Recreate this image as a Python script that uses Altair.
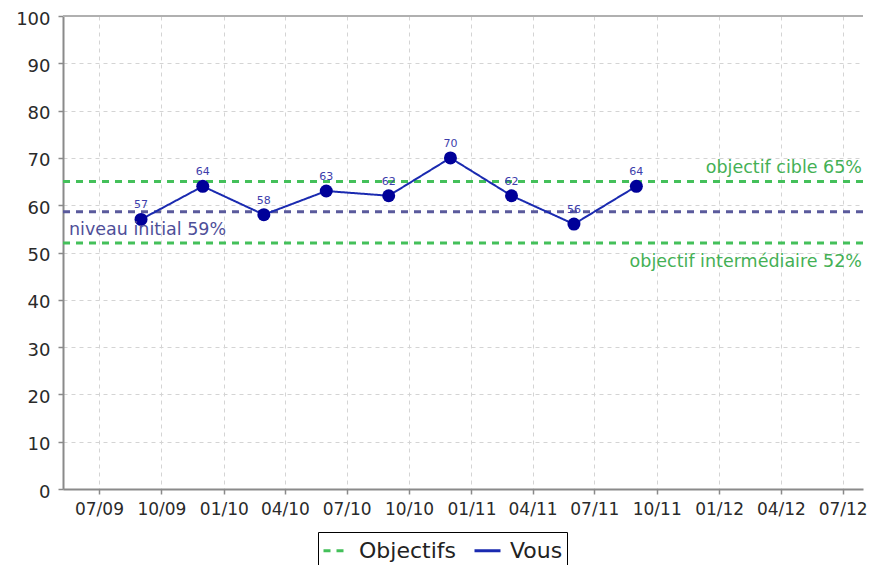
import altair as alt
import pandas as pd

# ---------------- data ----------------
dates = ["2009-09-01", "2009-12-01", "2010-03-01", "2010-06-01", "2010-09-01",
         "2010-12-01", "2011-03-01", "2011-06-01", "2011-09-01"]
scores = [57, 64, 58, 63, 62, 70, 62, 56, 64]
series_names = ["Objectifs", "Vous"]
goal_values = [65, 52]
goal_labels = ["objectif cible 65%", "objectif intermédiaire 52%"]
initial_values = [58.6]
initial_labels = ["niveau initial 59%"]
tick_years = [2009, 2009, 2010, 2010, 2010, 2010, 2011, 2011, 2011, 2011, 2012, 2012, 2012]
tick_months = [7, 10, 1, 4, 7, 10, 1, 4, 7, 10, 1, 4, 7]
y_ticks = [0, 10, 20, 30, 40, 50, 60, 70, 80, 90, 100]
x_start = (2009, 5, 9)
x_end = (2012, 7, 31)
y_range = [0, 100]

# ---------------- styles ----------------
GREEN = "#44c05a"
GREEN_TEXT = "#44b055"
NAVY = "#1a2ab0"
NAVY_PT = "#000099"
SLATE = "#5a5a9c"
SLATE_TEXT = "#4f4f99"
LABEL_BLUE = "#3d3dab"
FONT = "DejaVu Sans"
W, H = 800, 473

vous_df = pd.DataFrame({"date": dates, "score": scores, "series": "Vous"})
goals_df = pd.DataFrame({"value": goal_values, "label": goal_labels, "series": "Objectifs"})
init_df = pd.DataFrame({"value": initial_values, "label": initial_labels})
top_df = pd.DataFrame({"value": [y_range[1]]})


def dt(y, m, d):
    return alt.DateTime(year=y, month=m, date=d, utc=True)


x_scale = alt.Scale(type="utc", domain=[dt(*x_start), dt(*x_end)])
x_axis = alt.Axis(
    title=None,
    values=[dt(y, m, 1) for y, m in zip(tick_years, tick_months)],
    labelExpr="utcFormat(datum.value, '%m/%y')",
    labelOverlap=False, labelFlush=False, labelPadding=7, labelFontSize=17,
)
y_scale = alt.Scale(domain=y_range, nice=False, zero=True)
y_axis = alt.Axis(title=None, values=y_ticks, labelPadding=8, labelOffset=3)


def make_legend():
    return alt.Legend(
        title=None, orient="none", legendX=255, legendY=516, direction="horizontal",
        strokeColor="#000000", padding=4,
        labelFont=FONT, labelFontSize=22, labelColor="#222222",
        symbolType="stroke", symbolSize=676, symbolStrokeWidth=3,
        labelOffset=8, columnPadding=12,
    )


color_enc = alt.Color(
    "series:N", scale=alt.Scale(domain=series_names, range=[GREEN, NAVY]), legend=make_legend()
)
dash_enc = alt.StrokeDash(
    "series:N", scale=alt.Scale(domain=series_names, range=[[7, 6], [1, 0]]), legend=make_legend()
)

top_rule = alt.Chart(top_df).mark_rule(color="#b0b0b0", strokeWidth=2).encode(
    y=alt.Y("value:Q", scale=y_scale, axis=y_axis)
)
goal_rules = alt.Chart(goals_df).mark_rule(strokeWidth=3).encode(
    y=alt.Y("value:Q", scale=y_scale, axis=y_axis), color=color_enc, strokeDash=dash_enc
)
init_rule = alt.Chart(init_df).mark_rule(color=SLATE, strokeWidth=3, strokeDash=[7, 6]).encode(
    y=alt.Y("value:Q", scale=y_scale, axis=y_axis)
)
line = alt.Chart(vous_df).mark_line(strokeWidth=2).encode(
    x=alt.X("date:T", scale=x_scale, axis=x_axis),
    y=alt.Y("score:Q", scale=y_scale, axis=y_axis),
    color=color_enc,
    strokeDash=dash_enc,
)
points = alt.Chart(vous_df).mark_point(filled=True, size=169, opacity=1, color=NAVY_PT).encode(
    x=alt.X("date:T", scale=x_scale, axis=x_axis),
    y=alt.Y("score:Q", scale=y_scale, axis=y_axis),
)
point_labels = alt.Chart(vous_df).mark_text(
    font=FONT, fontSize=11, color=LABEL_BLUE, dy=-11, baseline="alphabetic"
).encode(
    x=alt.X("date:T", scale=x_scale, axis=x_axis),
    y=alt.Y("score:Q", scale=y_scale, axis=y_axis),
    text="score:Q",
)
goal_text_top = alt.Chart(goals_df).transform_filter(alt.datum.value == goal_values[0]).mark_text(
    font=FONT, fontSize=17.5, color=GREEN_TEXT, align="right", baseline="alphabetic", dy=-9
).encode(x=alt.value(W - 1), y=alt.Y("value:Q", scale=y_scale, axis=y_axis), text="label:N")
goal_text_bottom = alt.Chart(goals_df).transform_filter(alt.datum.value == goal_values[1]).mark_text(
    font=FONT, fontSize=17.5, color=GREEN_TEXT, align="right", baseline="alphabetic", dy=24
).encode(x=alt.value(W - 1), y=alt.Y("value:Q", scale=y_scale, axis=y_axis), text="label:N")
init_text = alt.Chart(init_df).mark_text(
    font=FONT, fontSize=17.5, color=SLATE_TEXT, align="left", baseline="alphabetic", dy=23
).encode(x=alt.value(6), y=alt.Y("value:Q", scale=y_scale, axis=y_axis), text="label:N")

chart = alt.layer(
    top_rule, goal_rules, init_rule, line, points, point_labels,
    goal_text_top, goal_text_bottom, init_text,
).properties(
    width=W, height=H,
    padding={"left": 55, "top": 8, "right": 5, "bottom": 76},
    autosize=alt.AutoSizeParams(type="none"),
).configure_view(stroke=None).configure_axis(
    labelFont=FONT, labelFontSize=18, labelColor="#2a2a2a",
    domainColor="#8a8a8a", domainWidth=2,
    tickColor="#8a8a8a", tickWidth=1.5, tickSize=5,
    gridColor="#d4d4d4", gridDash=[4, 4], gridWidth=1,
)

chart.save("out.html", embed_options={"renderer": "svg", "actions": False})
